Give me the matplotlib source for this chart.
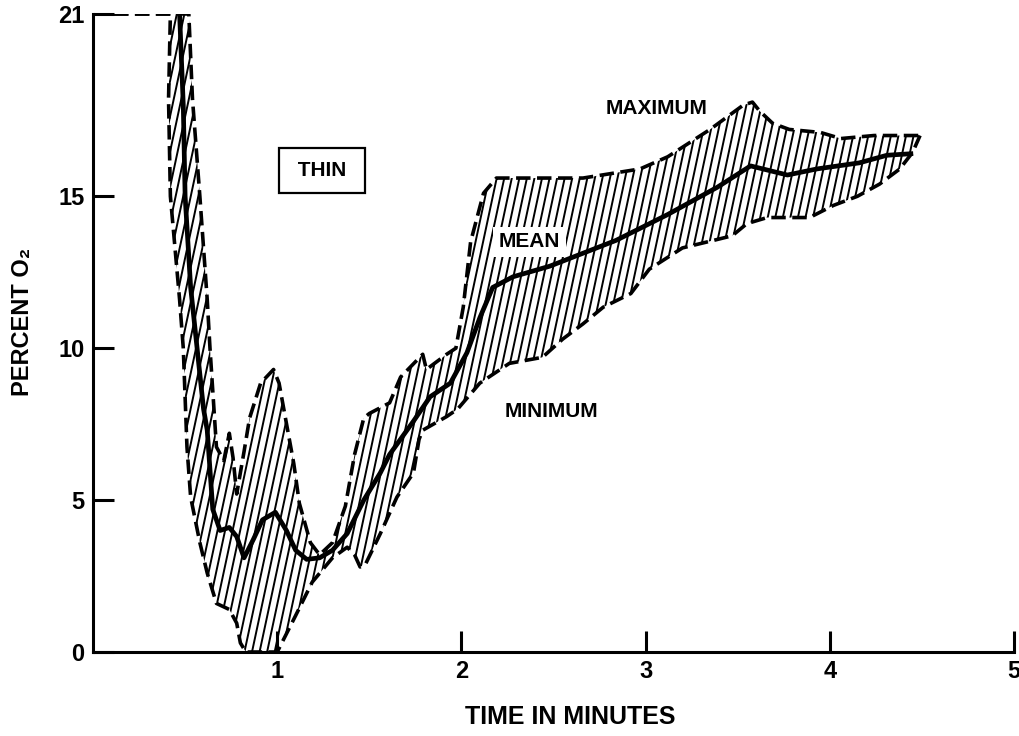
import numpy as np
import matplotlib.pyplot as plt
from matplotlib.collections import LineCollection

plt.rcParams['font.family'] = ['Liberation Sans', 'DejaVu Sans']
plt.rcParams['font.weight'] = 'bold'

# percent O2 vs time (minutes), thin subjects
max_t = [0.0, 0.52, 0.54, 0.58, 0.62, 0.635, 0.67, 0.71, 0.74, 0.76, 0.78, 0.82,
         0.85, 0.91, 0.98, 1.01, 1.09, 1.12, 1.18, 1.23, 1.30, 1.37, 1.42, 1.47,
         1.50, 1.61, 1.67, 1.79, 1.81, 1.92, 1.97, 2.01, 2.05, 2.12, 2.19, 2.66,
         2.97, 3.12, 3.35, 3.53, 3.58, 3.62, 3.69, 3.78, 3.95, 4.06, 4.24, 4.49]
max_v = [21.0, 21.0, 18.2, 15.0, 11.6, 10.0, 6.75, 6.3, 7.2, 6.4, 5.2, 6.6,
         7.7, 8.85, 9.3, 8.85, 6.2, 4.9, 3.6, 3.2, 3.6, 4.8, 6.5, 7.7,
         7.85, 8.2, 9.05, 9.8, 9.3, 9.8, 10.0, 11.35, 13.5, 15.1, 15.6, 15.6,
         15.9, 16.3, 17.2, 18.0, 18.1, 17.8, 17.4, 17.2, 17.1, 16.9, 17.0, 17.0]

min_t = [0.0, 0.42, 0.41, 0.42, 0.47, 0.49, 0.51, 0.53, 0.58, 0.62, 0.67, 0.74,
         0.78, 0.80, 0.83, 1.00, 1.10, 1.19, 1.30, 1.38, 1.42, 1.45, 1.48, 1.52,
         1.56, 1.65, 1.74, 1.77, 1.79, 1.92, 1.98, 2.10, 2.26, 2.44, 2.55, 2.66,
         2.77, 2.92, 3.02, 3.20, 3.37, 3.47, 3.55, 3.66, 3.78, 3.89, 4.02, 4.15,
         4.27, 4.38, 4.45, 4.49]
min_v = [21.0, 21.0, 18.2, 15.0, 11.6, 10.0, 6.75, 5.1, 3.6, 2.6, 1.6, 1.4,
         0.95, 0.3, 0.0, 0.0, 1.2, 2.3, 3.1, 3.45, 3.2, 2.8, 2.9, 3.4,
         3.9, 5.1, 5.9, 7.0, 7.3, 7.75, 8.0, 8.85, 9.5, 9.7, 10.3, 10.8,
         11.35, 11.8, 12.6, 13.3, 13.55, 13.7, 14.1, 14.3, 14.3, 14.3, 14.7, 15.0,
         15.4, 15.9, 16.45, 17.0]

mean_t = [0.47, 0.49, 0.50, 0.53, 0.565, 0.60, 0.62, 0.65, 0.69, 0.74, 0.78, 0.82,
          0.87, 0.92, 0.99, 1.05, 1.10, 1.16, 1.23, 1.30, 1.38, 1.47, 1.56, 1.61,
          1.74, 1.83, 1.94, 2.03, 2.10, 2.17, 2.28, 2.48, 2.84, 3.12, 3.39, 3.57,
          3.77, 3.93, 4.16, 4.31, 4.44]
mean_v = [21.0, 18.0, 15.0, 12.0, 10.0, 8.0, 7.3, 4.7, 4.0, 4.1, 3.8, 3.1,
          3.7, 4.35, 4.6, 4.0, 3.35, 3.05, 3.1, 3.35, 3.9, 5.0, 5.9, 6.5,
          7.6, 8.4, 8.85, 9.85, 11.0, 12.0, 12.35, 12.7, 13.55, 14.4, 15.3, 16.0,
          15.7, 15.9, 16.1, 16.35, 16.4]

fig = plt.figure(figsize=(10.2, 7.36), dpi=100)
ax = fig.add_axes([0.0912, 0.1141, 0.9029, 0.8669])

# band between min and max, shaded with steep diagonal lines
band_x = list(max_t) + list(min_t[::-1])
band_y = list(max_v) + list(min_v[::-1])
patch = ax.fill(band_x, band_y, facecolor='white', edgecolor='none', zorder=1)[0]

starts = np.arange(-0.9, 4.7, 0.041)
segs = [[(s, 0), (s + 0.74, 21)] for s in starts]
hatch = LineCollection(segs, colors='black', linewidths=1.4, zorder=2)
hatch.set_clip_path(patch)
ax.add_collection(hatch)

ax.plot(max_t, max_v, color='black', lw=2.6, dashes=(4, 1.8), zorder=3)
ax.plot(min_t, min_v, color='black', lw=2.6, dashes=(4, 1.8), zorder=3)
ax.plot(mean_t, mean_v, color='black', lw=3.4, solid_joinstyle='round', zorder=4)

ax.text(3.06, 17.9, 'MAXIMUM', fontsize=15, ha='center', va='center')
ax.text(2.37, 13.5, 'MEAN', fontsize=15, ha='center', va='center', zorder=5,
        bbox=dict(facecolor='white', edgecolor='none', pad=4))
ax.text(2.49, 7.93, 'MINIMUM', fontsize=15, ha='center', va='center')
ax.text(1.243, 15.86, ' THIN ', fontsize=15, ha='center', va='center',
        bbox=dict(facecolor='white', edgecolor='black', lw=1.6, pad=9.5))

ax.set_xlim(0, 5)
ax.set_ylim(0, 21)
ax.set_xticks([1, 2, 3, 4, 5])
ax.set_yticks([0, 5, 10, 15, 21])
ax.tick_params(direction='in', length=15, width=2.2, labelsize=17, pad=6)
for s in ['top', 'right']:
    ax.spines[s].set_visible(False)
for s in ['left', 'bottom']:
    ax.spines[s].set_linewidth(2.2)

fig.text(0.559, 0.026, 'TIME IN MINUTES', fontsize=18, ha='center', va='center')
fig.text(0.022, 0.563, 'PERCENT O₂', fontsize=17, ha='center', va='center',
         rotation=90)

fig.savefig('out.png')
